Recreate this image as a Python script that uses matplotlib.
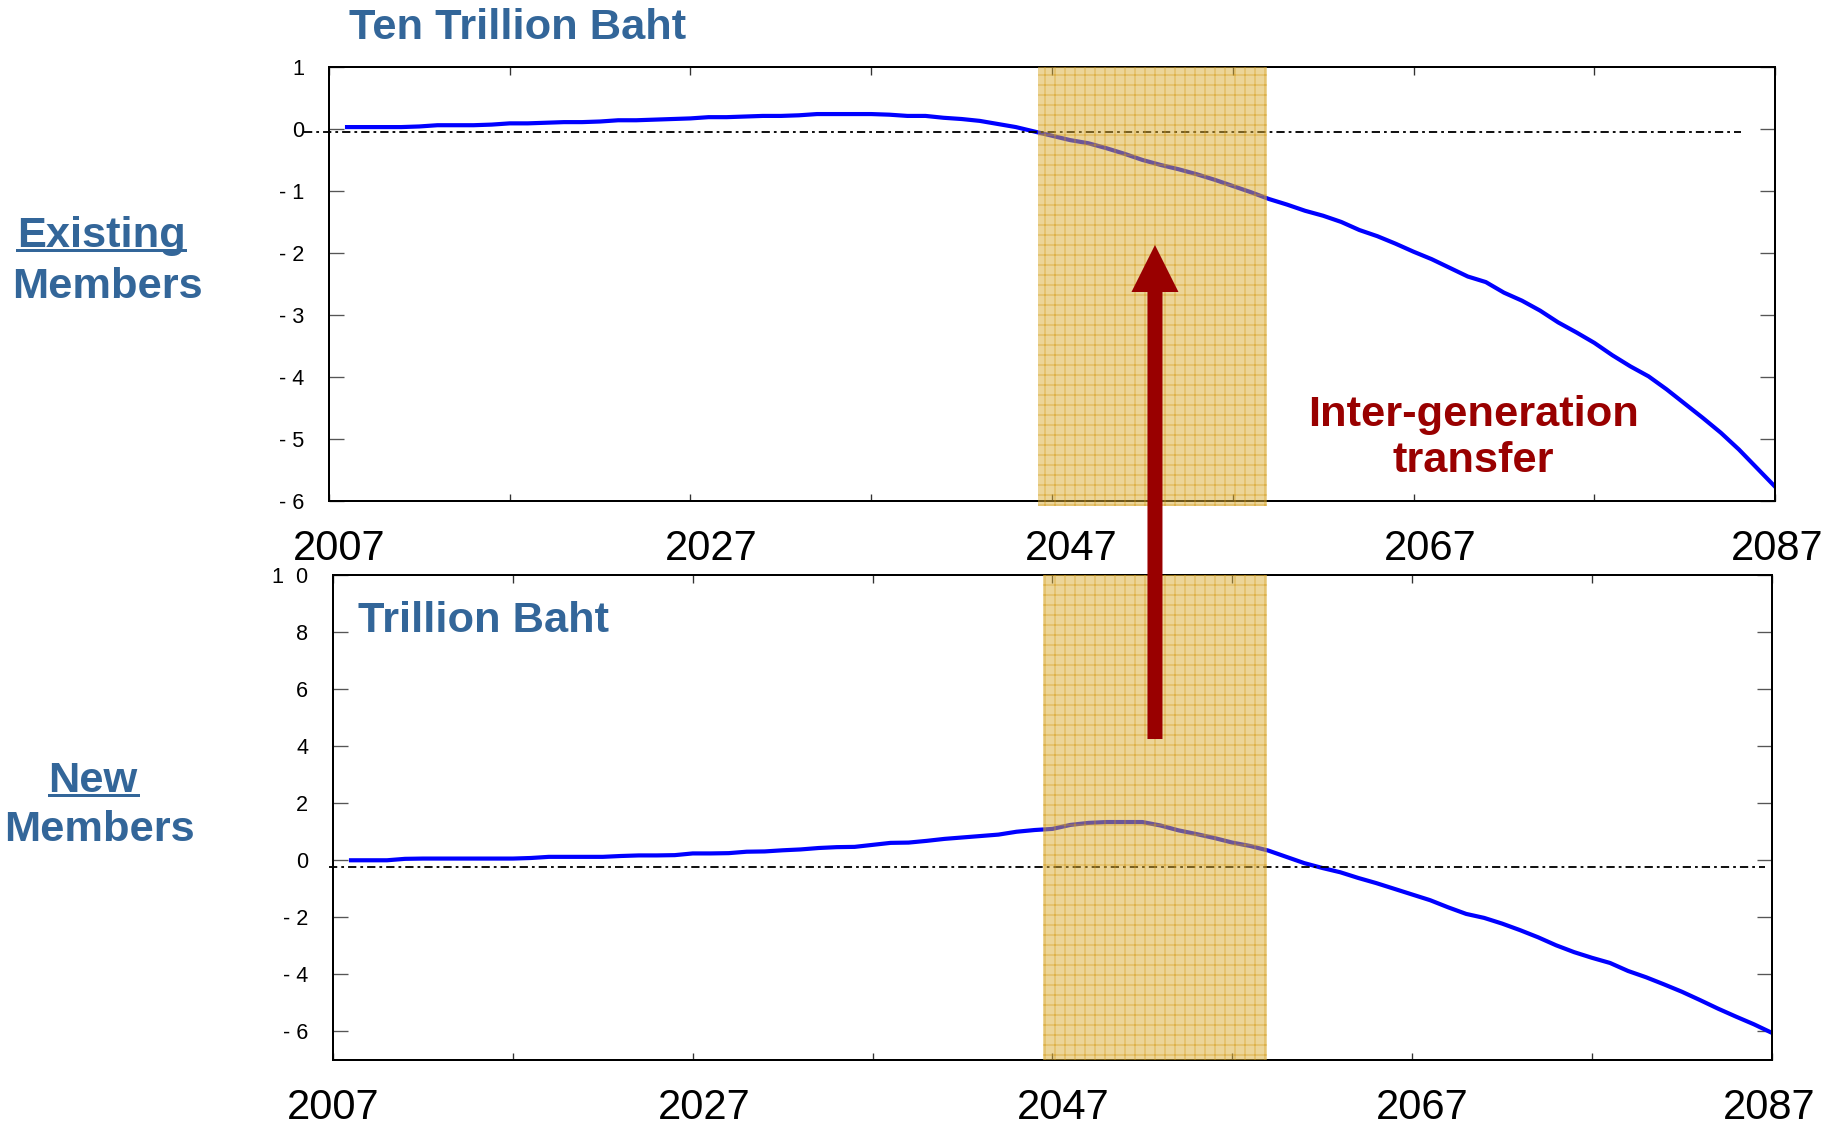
import numpy as np
import matplotlib
matplotlib.use("Agg")
import matplotlib.pyplot as plt
import matplotlib.transforms as mtransforms
from matplotlib.patches import FancyArrow
from matplotlib.lines import Line2D

plt.rcParams["font.family"] = ["Liberation Sans", "DejaVu Sans"]
plt.rcParams["hatch.linewidth"] = 0.5

# Annual balances, 2008-2087
YEARS = np.arange(2008, 2088)
EXISTING = [0.03, 0.03, 0.03, 0.03, 0.04, 0.06, 0.06, 0.06, 0.07, 0.09,
            0.09, 0.10, 0.11, 0.11, 0.12, 0.14, 0.14, 0.15, 0.16, 0.17,
            0.19, 0.19, 0.20, 0.21, 0.21, 0.22, 0.24, 0.24, 0.24, 0.24,
            0.23, 0.21, 0.21, 0.18, 0.16, 0.13, 0.08, 0.03, -0.04, -0.11,
            -0.18, -0.23, -0.31, -0.40, -0.50, -0.58, -0.65, -0.73, -0.82, -0.92,
            -1.02, -1.13, -1.22, -1.32, -1.40, -1.50, -1.63, -1.73, -1.85, -1.98,
            -2.10, -2.24, -2.38, -2.47, -2.64, -2.77, -2.93, -3.12, -3.28, -3.45,
            -3.65, -3.83, -3.99, -4.20, -4.43, -4.66, -4.90, -5.17, -5.47, -5.77]
NEW = [0.00, 0.00, 0.00, 0.05, 0.06, 0.06, 0.06, 0.06, 0.06, 0.06,
       0.08, 0.12, 0.12, 0.12, 0.12, 0.15, 0.17, 0.17, 0.18, 0.24,
       0.24, 0.25, 0.30, 0.31, 0.35, 0.38, 0.43, 0.46, 0.47, 0.54,
       0.61, 0.62, 0.68, 0.75, 0.80, 0.85, 0.90, 1.00, 1.06, 1.10,
       1.24, 1.31, 1.34, 1.34, 1.34, 1.22, 1.05, 0.92, 0.78, 0.62,
       0.50, 0.34, 0.12, -0.10, -0.27, -0.42, -0.62, -0.80, -1.00, -1.20,
       -1.40, -1.65, -1.88, -2.02, -2.22, -2.45, -2.70, -2.98, -3.22, -3.42,
       -3.60, -3.88, -4.10, -4.35, -4.61, -4.90, -5.20, -5.48, -5.75, -6.05]

X_TICKS = np.arange(2007, 2088, 10)
X_LABELS = ["2007", "", "2027", "", "2047", "", "2067", "", "2087"]

EXISTING_YTICKS = [1, 0, -1, -2, -3, -4, -5, -6]
EXISTING_YLABELS = ["1", "0", "- 1", "- 2", "- 3", "- 4", "- 5", "- 6"]
NEW_YTICKS = [10, 8, 6, 4, 2, 0, -2, -4, -6]
NEW_YLABELS = ["1  0", "8", "6", "4", "2", "0", "- 2", "- 4", "- 6"]

# transfer window and zero reference lines
EXISTING_SPAN = (2046.2, 2058.9)
NEW_SPAN = (2046.5, 2058.9)
EXISTING_ZERO = ([2005.6, 2085.1], [-0.05, -0.05])
NEW_ZERO = ([2006.8, 2086.6], [-0.25, -0.25])

BLUE_TXT = "#336699"
DARK_RED = "#990000"
DPI = 120

fig = plt.figure(figsize=(1845 / DPI, 1125 / DPI), dpi=DPI)
ax_top = fig.add_axes([0.1783, 0.5547, 0.7838, 0.3858])
ax_bot = fig.add_axes([0.1805, 0.0578, 0.7799, 0.4311])


def style_axis(ax, yticks, ylabels, ylim, label_shifts):
    ax.set_xlim(2007, 2087)
    ax.set_ylim(*ylim)
    ax.set_xticks(X_TICKS, X_LABELS)
    ax.set_yticks(yticks, ylabels)
    ax.tick_params(axis="x", direction="in", top=True, bottom=True,
                   length=4.5, width=0.8, labelsize=25, pad=17, color="#333333")
    ax.tick_params(axis="y", direction="in", left=True, right=True,
                   length=9, width=0.8, labelsize=13, pad=15, color="#555555")
    for sp in ax.spines.values():
        sp.set_linewidth(1.2)
        sp.set_color("black")
    # nudge the year labels sideways, pixel amounts per label
    labels = [lab for lab in ax.get_xticklabels() if lab.get_text()]
    for lab, dx in zip(labels, label_shifts):
        shift = mtransforms.ScaledTranslation(dx / DPI, 0, fig.dpi_scale_trans)
        lab.set_transform(lab.get_transform() + shift)


def shade(ax, span, ymin):
    ax.axvspan(span[0], span[1], ymin=ymin, ymax=1,
               facecolor=(0.86, 0.68, 0.2, 0.5),
               edgecolor=(0.83, 0.60, 0.08, 0.7),
               hatch="++", linewidth=0, zorder=3, clip_on=False)


dashdot = (0, (4.5, 2.2, 1.5, 2.2))

# existing members
ax_top.plot(YEARS, EXISTING, color="#0000FF", lw=2.5, zorder=2)
ax_top.plot(*EXISTING_ZERO, color="black", lw=1.1, ls=dashdot, zorder=2, clip_on=False)
shade(ax_top, EXISTING_SPAN, -0.012)
style_axis(ax_top, EXISTING_YTICKS, EXISTING_YLABELS, (-6, 1), [10, 21, 19, 17, 2])

# new members
ax_bot.plot(YEARS, NEW, color="#0000FF", lw=2.5, zorder=2)
ax_bot.plot(*NEW_ZERO, color="black", lw=1.1, ls=dashdot, zorder=2, clip_on=False)
shade(ax_bot, NEW_SPAN, 0)
style_axis(ax_bot, NEW_YTICKS, NEW_YLABELS, (-7, 10), [0, 11, 11, 10, -3])

# unit captions
fig.text(0.189, 0.975, "Ten Trillion Baht", color=BLUE_TXT, fontsize=26,
         fontweight="bold", ha="left", va="center")
ax_bot.text(0.0175, 0.905, "Trillion Baht", transform=ax_bot.transAxes,
            color=BLUE_TXT, fontsize=26, fontweight="bold", ha="left", va="center")

# row headings (first word underlined)
heads = []
for x, y, word in [(0.0548, 0.790, "Existing"), (0.0505, 0.306, "New")]:
    heads.append(fig.text(x, y, word, color=BLUE_TXT, fontsize=26,
                          fontweight="bold", ha="center", va="center"))
fig.text(0.058, 0.7446, "Members", color=BLUE_TXT, fontsize=26,
         fontweight="bold", ha="center", va="center")
fig.text(0.054, 0.2619, "Members", color=BLUE_TXT, fontsize=26,
         fontweight="bold", ha="center", va="center")

fig.canvas.draw()
renderer = fig.canvas.get_renderer()
W, H = fig.bbox.width, fig.bbox.height
for t in heads:
    bb = t.get_window_extent(renderer)
    yline = (bb.y0 + 6) / H
    fig.add_artist(Line2D([bb.x0 / W, bb.x1 / W], [yline, yline],
                          color=BLUE_TXT, lw=1.8))

# transfer arrow from the new members panel up to the existing members panel
fig.add_artist(FancyArrow(0.626, 1 - 739 / 1125, 0, (739 - 245) / 1125,
                          width=15 / 1845, head_width=47 / 1845,
                          head_length=47 / 1125, length_includes_head=True,
                          color=DARK_RED, linewidth=0, zorder=5))

fig.text(0.7985, 0.611, "Inter-generation\ntransfer", color=DARK_RED,
         fontsize=26, fontweight="bold", ha="center", va="center",
         linespacing=1.2)

fig.savefig("out.png", dpi=DPI)
